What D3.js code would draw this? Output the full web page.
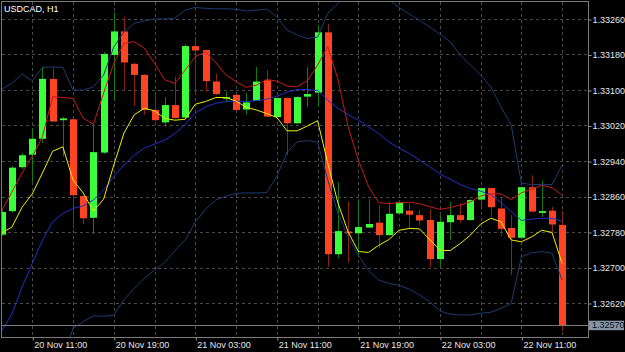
<!DOCTYPE html>
<html><head><meta charset="utf-8">
<script src="https://cdn.jsdelivr.net/npm/d3@7/dist/d3.min.js"></script>
<style>
html,body{margin:0;padding:0;background:#000;}
svg{display:block;}
text{font-family:"Liberation Sans",Arial,sans-serif;}
</style></head>
<body>
<script>
const symbolTitle = "USDCAD, H1";
const times = ["20 Nov 08:00","20 Nov 09:00","20 Nov 10:00","20 Nov 11:00","20 Nov 12:00","20 Nov 13:00","20 Nov 14:00","20 Nov 15:00","20 Nov 16:00","20 Nov 17:00",
"20 Nov 18:00","20 Nov 19:00","20 Nov 20:00","20 Nov 21:00","20 Nov 22:00","20 Nov 23:00","21 Nov 00:00","21 Nov 01:00","21 Nov 02:00","21 Nov 03:00",
"21 Nov 04:00","21 Nov 05:00","21 Nov 06:00","21 Nov 07:00","21 Nov 08:00","21 Nov 09:00","21 Nov 10:00","21 Nov 11:00","21 Nov 12:00","21 Nov 13:00",
"21 Nov 14:00","21 Nov 15:00","21 Nov 16:00","21 Nov 17:00","21 Nov 18:00","21 Nov 19:00","21 Nov 20:00","21 Nov 21:00","21 Nov 22:00","21 Nov 23:00",
"22 Nov 00:00","22 Nov 01:00","22 Nov 02:00","22 Nov 03:00","22 Nov 04:00","22 Nov 05:00","22 Nov 06:00","22 Nov 07:00","22 Nov 08:00","22 Nov 09:00",
"22 Nov 10:00","22 Nov 11:00","22 Nov 12:00","22 Nov 13:00","22 Nov 14:00","22 Nov 15:00"];

const open = [1.32774,1.32827,1.32926,1.32954,1.32990,1.33125,1.33032,1.33034,1.32861,1.32812,
1.32959,1.33179,1.33232,1.33159,1.33134,1.33055,1.33027,1.33066,1.33038,1.33199,
1.33190,1.33119,1.33082,1.33089,1.33056,1.33076,1.33122,1.33039,1.33082,1.33025,
1.33085,1.33094,1.33230,1.32730,1.32781,1.32777,1.32790,1.32801,1.32773,1.32822,
1.32828,1.32818,1.32807,1.32719,1.32802,1.32818,1.32807,1.32853,1.32879,1.32833,
1.32789,1.32767,1.32881,1.32823,1.32828,1.32796];
const high = [1.32832,1.32929,1.32958,1.33014,1.33152,1.33149,1.33039,1.33036,1.32863,1.33023,
1.33186,1.33275,1.33265,1.33161,1.33136,1.33091,1.33084,1.33130,1.33204,1.33220,
1.33191,1.33137,1.33096,1.33090,1.33093,1.33152,1.33145,1.33083,1.33083,1.33086,
1.33152,1.33246,1.33249,1.32893,1.32848,1.32854,1.32854,1.32841,1.32848,1.32849,
1.32845,1.32830,1.32831,1.32818,1.32848,1.32845,1.32854,1.32880,1.32880,1.32857,
1.32818,1.32882,1.32908,1.32896,1.32837,1.32827];
const low = [1.32771,1.32823,1.32922,1.32893,1.32981,1.33028,1.32950,1.32788,1.32798,1.32775,
1.32956,1.33077,1.33100,1.33064,1.33044,1.33030,1.33017,1.33035,1.33037,1.33091,
1.33096,1.33089,1.33074,1.33053,1.33044,1.33075,1.33039,1.33037,1.32953,1.33023,
1.33062,1.33062,1.32702,1.32721,1.32711,1.32726,1.32789,1.32743,1.32772,1.32820,
1.32788,1.32796,1.32701,1.32702,1.32762,1.32800,1.32805,1.32830,1.32814,1.32771,
1.32683,1.32766,1.32825,1.32814,1.32777,1.32557];
const close = [1.32825,1.32925,1.32953,1.32990,1.33125,1.33029,1.33036,1.32863,1.32811,1.32960,
1.33181,1.33232,1.33162,1.33134,1.33055,1.33032,1.33066,1.33037,1.33199,1.33189,
1.33120,1.33091,1.33084,1.33055,1.33072,1.33119,1.33040,1.33082,1.33025,1.33084,
1.33091,1.33230,1.32730,1.32782,1.32777,1.32791,1.32798,1.32773,1.32821,1.32847,
1.32819,1.32806,1.32719,1.32803,1.32818,1.32807,1.32852,1.32879,1.32836,1.32787,
1.32767,1.32881,1.32826,1.32827,1.32797,1.32570];

const maFast = [1.32778,1.32791,1.32836,1.32866,1.32913,1.32962,1.32972,1.32897,1.32868,1.32827,
1.32854,1.32931,1.33003,1.33044,1.33059,1.33053,1.33036,1.33032,1.33034,1.33068,
1.33074,1.33083,1.33083,1.33075,1.33061,1.33055,1.33047,1.33038,1.33008,1.33008,
1.33019,1.33031,1.32935,1.32845,1.32780,1.32736,1.32734,1.32750,1.32763,1.32784,
1.32788,1.32787,1.32763,1.32739,1.32738,1.32754,1.32773,1.32798,1.32811,1.32803,
1.32762,1.32758,1.32769,1.32784,1.32779,1.32709];
const maHigh = [1.32828,1.32870,1.32913,1.32950,1.32995,1.33085,1.33083,1.33081,1.33036,1.33023,
1.33093,1.33160,1.33205,1.33209,1.33194,1.33160,1.33123,1.33115,1.33145,1.33175,
1.33186,1.33162,1.33134,1.33119,1.33106,1.33111,1.33124,1.33120,1.33109,1.33107,
1.33121,1.33156,1.33198,1.33123,1.33017,1.32942,1.32882,1.32846,1.32844,1.32846,
1.32847,1.32844,1.32837,1.32831,1.32835,1.32841,1.32848,1.32861,1.32866,1.32866,
1.32853,1.32868,1.32877,1.32885,1.32880,1.32863];
const bbMiddle = [1.32557,1.32595,1.32656,1.32709,1.32762,1.32803,1.32822,1.32833,1.32839,1.32852,
1.32875,1.32905,1.32931,1.32953,1.32969,1.32978,1.32987,1.33002,1.33022,1.33048,
1.33062,1.33070,1.33074,1.33075,1.33074,1.33076,1.33079,1.33086,1.33095,1.33101,
1.33101,1.33099,1.33077,1.33059,1.33044,1.33032,1.33017,1.33002,1.32983,1.32969,
1.32957,1.32942,1.32927,1.32911,1.32899,1.32887,1.32878,1.32872,1.32864,1.32846,
1.32826,1.32806,1.32809,1.32811,1.32811,1.32804];
const bbUpper = [1.33102,1.33115,1.33136,1.33121,1.33151,1.33152,1.33151,1.33100,1.33100,1.33107,
1.33134,1.33197,1.33231,1.33250,1.33256,1.33260,1.33260,1.33262,1.33280,1.33286,
1.33284,1.33283,1.33283,1.33282,1.33278,1.33280,1.33282,1.33265,1.33235,1.33224,
1.33216,1.33219,1.33273,1.33295,1.33318,1.33337,1.33341,1.33332,1.33303,1.33286,
1.33271,1.33257,1.33242,1.33226,1.33209,1.33179,1.33156,1.33134,1.33107,1.33062,
1.33021,1.32890,1.32887,1.32887,1.32887,1.32931];
const bbLower = [1.32014,1.32074,1.32176,1.32298,1.32373,1.32454,1.32493,1.32563,1.32578,1.32591,
1.32590,1.32593,1.32627,1.32653,1.32676,1.32694,1.32712,1.32738,1.32762,1.32802,
1.32831,1.32852,1.32861,1.32867,1.32868,1.32868,1.32869,1.32905,1.32960,1.32983,
1.32986,1.32983,1.32897,1.32822,1.32769,1.32728,1.32693,1.32672,1.32664,1.32660,
1.32651,1.32638,1.32623,1.32602,1.32595,1.32593,1.32593,1.32597,1.32599,1.32608,
1.32619,1.32724,1.32733,1.32736,1.32732,1.32672];

const priceTicks = [1.33260,1.33180,1.33100,1.33020,1.32940,1.32860,1.32780,1.32700,1.32620];
const timeTickIdx = [3,11,19,27,35,43,51];
const gridIdx = [3,7,11,15,19,23,27,31,35,39,43,47,51,55];
const lastPrice = 1.32570;

const W = 625, H = 352;
const L = 2, T = 2, R = 588, B = 337;

const svg = d3.select("body").append("svg").attr("width", W).attr("height", H)
  .style("background", "#000");

const y = d3.scaleLinear().domain([1.32620, 1.33260]).range([303, 19]);
const x = d3.scaleLinear().domain([0, 55]).range([1.7, 1.7 + 55 * 10.19]);

svg.append("defs").append("clipPath").attr("id", "plot")
  .append("rect").attr("x", L).attr("y", T).attr("width", R - L).attr("height", B - T);

// grid
const grid = svg.append("g").attr("stroke", "#4a4a4a").attr("stroke-dasharray", "3,3").attr("shape-rendering", "crispEdges");
grid.selectAll("line.h").data(priceTicks).join("line")
  .attr("x1", L).attr("x2", R).attr("y1", d => Math.round(y(d)) + 0.5).attr("y2", d => Math.round(y(d)) + 0.5);
grid.selectAll("line.v").data(gridIdx).join("line")
  .attr("x1", d => Math.round(x(d)) + 0.5).attr("x2", d => Math.round(x(d)) + 0.5).attr("y1", T).attr("y2", B);

const plot = svg.append("g").attr("clip-path", "url(#plot)");

// candles
const idx = d3.range(open.length);
const up = i => close[i] >= open[i];
const cx = i => Math.round(x(i));
plot.append("g").selectAll("line").data(idx).join("line")
  .attr("x1", i => cx(i) + 0.5).attr("x2", i => cx(i) + 0.5)
  .attr("y1", i => y(high[i])).attr("y2", i => y(low[i]))
  .attr("stroke", i => up(i) ? "#137a13" : "#8c2212").attr("stroke-width", 1);
plot.append("g").selectAll("rect").data(idx).join("rect")
  .attr("x", i => cx(i) - 3).attr("width", 7)
  .attr("y", i => y(Math.max(open[i], close[i])))
  .attr("height", i => Math.max(1.6, Math.abs(y(open[i]) - y(close[i]))))
  .attr("fill", i => up(i) ? "#3cff3c" : "#ff4424");

// indicator lines
const lineGen = arr => d3.line().x((d, i) => x(i)).y(d => y(d))(arr);
const series = [
  {data: bbUpper, color: "#1b3c70"},
  {data: bbLower, color: "#1b3c70"},
  {data: bbMiddle, color: "#2230c8"},
  {data: maHigh, color: "#c81a1a"},
  {data: maFast, color: "#f0f000"}
];
plot.selectAll("path.ind").data(series).join("path")
  .attr("d", s => lineGen(s.data)).attr("fill", "none")
  .attr("stroke", s => s.color).attr("stroke-width", 1);

// last price line
svg.append("line").attr("x1", L).attr("x2", R)
  .attr("y1", Math.round(y(lastPrice)) + 0.5).attr("y2", Math.round(y(lastPrice)) + 0.5)
  .attr("stroke", "#7a7a7a").attr("shape-rendering", "crispEdges");

// border
svg.append("rect").attr("x", L - 0.5).attr("y", T - 0.5).attr("width", R - L + 1).attr("height", B - T + 1)
  .attr("fill", "none").attr("stroke", "#7a7a7a").attr("shape-rendering", "crispEdges");

// right axis
const yAxis = d3.axisRight(y).tickValues(priceTicks).tickFormat(d3.format(".5f")).tickSize(3).tickPadding(1);
const ga = svg.append("g").attr("transform", `translate(${R + 0.5},0.5)`).call(yAxis);
ga.select(".domain").remove();
ga.selectAll("line").attr("stroke", "#9a9a9a");
ga.selectAll("text").attr("fill", "#e6e6e6").style("font-size", "9px").style("font-family", "Liberation Sans, Arial, sans-serif");

// bottom axis
const xAxis = d3.axisBottom(x).tickValues(timeTickIdx).tickFormat(i => times[i]).tickSize(3).tickPadding(1);
const gb = svg.append("g").attr("transform", `translate(0.5,${B + 0.5})`).call(xAxis);
gb.select(".domain").remove();
gb.selectAll("line").attr("stroke", "#9a9a9a");
gb.selectAll("text").attr("fill", "#e6e6e6").attr("text-anchor", "start").attr("x", 1)
  .style("font-size", "9px").style("font-family", "Liberation Sans, Arial, sans-serif");

// last price tag
const ly = y(lastPrice);
svg.append("rect").attr("x", 589).attr("y", ly - 4.5).attr("width", 35).attr("height", 9.5).attr("fill", "#8595a8");
svg.append("text").attr("x", 592).attr("y", ly + 3.2).text(d3.format(".5f")(lastPrice))
  .attr("fill", "#0c1018").style("font-size", "9px");

// title
svg.append("text").attr("x", 4).attr("y", 12).text(symbolTitle).attr("fill", "#ffffff").style("font-size", "9px");
</script>
</body></html>
